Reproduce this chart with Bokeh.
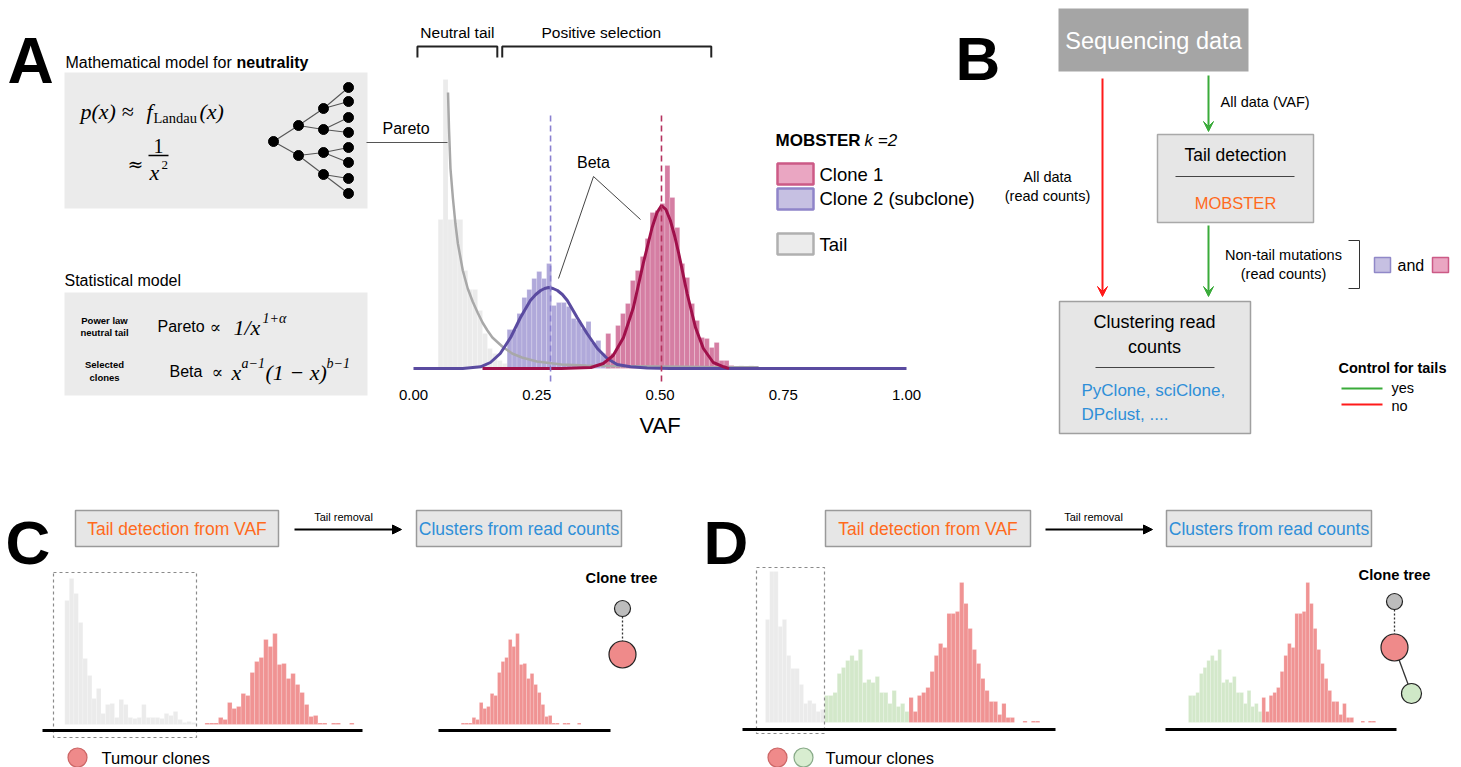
from bokeh.plotting import figure
from bokeh.models import Range1d, Arrow, VeeHead, NormalHead
from bokeh.core.properties import value
from bokeh.embed import file_html
from bokeh.resources import INLINE

# ---------------- data ----------------
# Panel A: VAF histogram (bin start, width 0.01) and fitted densities
tail_bin = [0.05, 0.06, 0.07, 0.08, 0.09, 0.10, 0.11, 0.12, 0.13, 0.14, 0.15, 0.16,
            0.17, 0.18, 0.19, 0.20, 0.21, 0.22, 0.66, 0.68]
tail_count = [149, 289, 149, 149, 149, 98, 79, 79, 58, 35, 20, 15, 8, 5, 4, 3, 3, 2, 3, 3]
sub_bin = [0.19, 0.20, 0.21, 0.22, 0.23, 0.24, 0.25, 0.26, 0.27, 0.28, 0.29, 0.30,
           0.31, 0.32, 0.33, 0.34, 0.35, 0.36, 0.37, 0.38, 0.39]
sub_count = [39, 39, 55, 71, 79, 90, 97, 90, 105, 63, 66, 66, 62, 50, 48, 40, 47, 26, 28, 15, 8]
clone_bin = [0.39, 0.40, 0.41, 0.42, 0.43, 0.44, 0.45, 0.46, 0.47, 0.48, 0.49, 0.50,
             0.51, 0.52, 0.53, 0.54, 0.55, 0.56, 0.57, 0.58, 0.59, 0.60, 0.61, 0.62,
             0.63, 0.64, 0.65, 0.66, 0.67, 0.68]
clone_count = [35, 15, 43, 55, 65, 88, 98, 112, 130, 156, 158, 165, 203, 171, 141, 105,
               91, 65, 48, 31, 30, 21, 26, 8, 8, 3, 2, 2, 0, 2]
bin_w = 0.01

pareto_vaf = [0.070, 0.072, 0.075, 0.08, 0.085, 0.09, 0.10, 0.11, 0.12, 0.13, 0.14, 0.15,
              0.16, 0.18, 0.20, 0.22, 0.25, 0.30, 0.35, 0.40, 0.50, 0.60, 0.70]
pareto_h = [276, 240, 200, 170, 145, 125, 98, 80, 67, 56, 46, 38, 31, 22, 15, 11, 7, 4, 3,
            2.5, 2, 1.5, 1.2]
sub_vaf = [0.0, 0.10, 0.136, 0.156, 0.176, 0.197, 0.217, 0.237, 0.248, 0.258, 0.266, 0.274,
           0.283, 0.292, 0.302, 0.312, 0.332, 0.352, 0.373, 0.393, 0.413, 0.44, 0.474, 0.52, 1.0]
sub_h = [0, 0, 1.7, 6, 15, 31, 51, 68, 74, 78, 80, 81, 80, 78, 74, 68, 51, 35, 20, 10, 4,
         1.7, 0.5, 0, 0]
clone_vaf = [0.14, 0.30, 0.36, 0.385, 0.405, 0.426, 0.446, 0.466, 0.476, 0.484, 0.494, 0.503,
             0.512, 0.521, 0.53, 0.538, 0.555, 0.572, 0.588, 0.608, 0.629, 0.64]
clone_h = [0, 0, 1, 5, 13, 31, 61, 105, 125, 141, 156, 163, 159, 148, 132, 115, 75, 41, 20,
           6, 1.7, 0]
sub_mean = 0.278
clone_mean = 0.503
vaf_ticks = [0.0, 0.25, 0.5, 0.75, 1.0]
vaf_labels = ["0.00", "0.25", "0.50", "0.75", "1.00"]
neutral_span = [0.008, 0.17]
positive_span = [0.18, 0.604]

# Panel C: histogram by bin index
C_tail_count = [124, 146, 131, 102, 66, 49, 26, 36, 11, 20, 21, 7, 25, 20, 7, 6, 7, 20, 7, 7,
                7, 6, 11, 9, 13, 5, 2, 3, 2]
C_clone_start = 31
C_clone_count = [1.5, 1.5, 1.5, 7, 5, 22, 16, 18, 31, 29, 52, 63, 67, 85, 78, 91, 60, 61, 46,
                 51, 40, 32, 20, 8, 9, 1.5, 1.5, 0, 1.5, 1.5, 0, 0, 1.5]

# Panel D: histogram by bin index
D_tail_count = [103, 151, 151, 96, 103, 67, 54, 54, 38, 19, 22, 19, 11, 13]
D_sub_start = 14
D_sub_count = [27, 27, 30, 49, 55, 62, 67, 62, 73, 40, 43, 40, 46, 30, 30, 19, 32, 16, 19, 11]
D_clone_start = 34
D_clone_count = [25, 11, 27, 30, 35, 51, 67, 79, 75, 109, 109, 111, 140, 119, 94, 73, 59, 44,
                 32, 21, 21, 8, 19, 5, 5, 0, 0, 1.5, 0, 1.5, 1.5]

# ---------------- styles ----------------
SANS = "Liberation Sans"
SERIF = "Liberation Serif"
MATH = "DejaVu Serif"
W, H = 1461, 767
GRAY_BAR = "#ebebeb"
PURPLE_BAR = "#b0a9da"
RED_BAR = "#d57ea3"
C_RED = "#f09393"
C_GREEN = "#d3e8ca"
ORANGE = "#ff6a1c"
BLUE = "#2f8fd8"

p = figure(width=W, height=H, x_range=Range1d(0, W), y_range=Range1d(H, 0),
           x_axis_type=None, y_axis_type=None, toolbar_location=None,
           output_backend="svg", min_border=0, outline_line_color=None)
p.min_border_left = p.min_border_right = p.min_border_top = p.min_border_bottom = 0
p.title.visible = False
p.grid.grid_line_color = None
p.background_fill_color = "white"
p.border_fill_color = "white"


def xmap(p0, w):
    return Range1d(start=(0 - p0) / w, end=(W - p0) / w)


def ymap(base):
    return Range1d(start=-(H - base), end=base)


p.extra_x_ranges = {"vafA": xmap(413, 493), "C1": xmap(64.3, 4.52), "C2": xmap(348.2, 3.63),
                    "D1": xmap(765, 4.22), "D2": xmap(1136.6, 3.67)}
p.extra_y_ranges = {"hA": ymap(368), "hC": ymap(724), "hD": ymap(722)}


def T(x, y, s, size, color="black", font=SANS, style="normal", align="left",
      baseline="middle", xr=None):
    kw = {}
    if xr:
        kw["x_range_name"] = xr
    p.text(x=[x], y=[y], text=[s], text_font=value(font), text_font_size=f"{size}px",
           text_font_style=style, text_color=color, text_align=align,
           text_baseline=baseline, **kw)


def L(xs, ys, color="black", width=1.0, dash="solid", xr=None):
    kw = {}
    if xr:
        kw["x_range_name"] = xr
    p.line(xs, ys, line_color=color, line_width=width, line_dash=dash, **kw)


def box(l, r, t, b, fill, line=None, lw=1.5, dash="solid"):
    p.quad(left=[l], right=[r], top=[t], bottom=[b], fill_color=fill,
           fill_alpha=1 if fill else 0, line_color=line, line_width=lw, line_dash=dash)


def bars(bins, counts, width, color, xr, yr):
    p.quad(left=bins, right=[b + width for b in bins], bottom=[0] * len(bins), top=counts,
           fill_color=color, line_color="white", line_width=0.4, line_alpha=0.45,
           x_range_name=xr, y_range_name=yr)


def arrow(x0, y0, x1, y1, color, head="vee", size=11, width=2):
    if head == "vee":
        hd = VeeHead(size=size, line_color=color, fill_color=color, line_width=1)
    else:
        hd = NormalHead(size=size, line_color=color, fill_color=color, line_width=1)
    p.add_layout(Arrow(end=hd, x_start=x0, y_start=y0, x_end=x1, y_end=y1,
                       line_color=color, line_width=width))


def dot(x, y, d, fill, line="#222", lw=1.2):
    p.scatter(x=[x], y=[y], size=d, marker="circle", fill_color=fill, line_color=line,
              line_width=lw)


# ================= Panel A =================
T(7, 60, "A", 64, style="bold", baseline="alphabetic")
T(65, 62, "Mathematical model for", 16)
T(236, 62, "neutrality", 16, style="bold")
box(64, 367, 72, 208, "#ebebeb")
T(80, 111, "p(x) \u2248", 22, font=SERIF, style="italic")
T(146, 111, "f", 22, font=SERIF, style="italic")
T(153, 117, "Landau", 14.5, font=SERIF)
T(199, 111, "(x)", 22, font=SERIF, style="italic")
T(127, 163, "\u2248", 19, font=MATH)
T(158, 145, "1", 20, font=SERIF, align="center")
L([148, 168], [155, 155], width=1.3)
T(154, 172, "x", 22, font=SERIF, style="italic", align="center")
T(161, 164, "2", 13, font=SERIF)

tree_x = [273, 298, 298, 323, 323, 323, 323, 348, 348, 348, 348, 348, 348, 348, 348]
tree_y = [141, 125, 155, 108, 129, 152, 174, 87, 101, 117, 132, 147, 162, 178, 193]
tree_parent = [None, 0, 0, 1, 1, 2, 2, 3, 3, 4, 4, 5, 5, 6, 6]
ex0, ey0, ex1, ey1 = [], [], [], []
for i, par in enumerate(tree_parent):
    if par is not None:
        ex0.append(tree_x[par]); ey0.append(tree_y[par])
        ex1.append(tree_x[i]); ey1.append(tree_y[i])
p.segment(x0=ex0, y0=ey0, x1=ex1, y1=ey1, line_color="#555555", line_width=1.1)
p.scatter(x=tree_x, y=tree_y, size=10, marker="circle", fill_color="black", line_color="black")

T(64, 280, "Statistical model", 16)
box(64, 367, 292, 395, "#ebebeb")
T(104, 320, "Power law", 9.5, style="bold", align="center")
T(104, 332, "neutral tail", 9.5, style="bold", align="center")
T(104, 364, "Selected", 9.5, style="bold", align="center")
T(104, 377, "clones", 9.5, style="bold", align="center")
T(157, 326, "Pareto", 16)
T(209, 326, "\u221d", 17, font=MATH)
T(233, 327, "1/x", 22, font=SERIF, style="italic")
T(262, 318, "1+\u03b1", 14, font=SERIF, style="italic")
T(169, 371, "Beta", 16)
T(211, 371, "\u221d", 17, font=MATH)
T(231, 372, "x", 22, font=SERIF, style="italic")
T(241, 363, "a\u22121", 14, font=SERIF, style="italic")
T(265, 372, "(1 \u2212 x)", 22, font=SERIF, style="italic")
T(326, 363, "b\u22121", 14, font=SERIF, style="italic")

# histogram A
bars(tail_bin, tail_count, bin_w, GRAY_BAR, "vafA", "hA")
bars(sub_bin, sub_count, bin_w, PURPLE_BAR, "vafA", "hA")
bars(clone_bin, clone_count, bin_w, RED_BAR, "vafA", "hA")
p.line(pareto_vaf, pareto_h, line_color="#a8a8a8", line_width=2.5,
       x_range_name="vafA", y_range_name="hA")
p.line(sub_vaf, sub_h, line_color="#5a4ba0", line_width=3,
       x_range_name="vafA", y_range_name="hA")
p.line(clone_vaf, clone_h, line_color="#a0104a", line_width=3,
       x_range_name="vafA", y_range_name="hA")
p.segment(x0=[sub_mean], x1=[sub_mean], y0=[115], y1=[383], line_color="#8a80d0",
          line_width=1.6, line_dash="6 4", x_range_name="vafA")
p.segment(x0=[clone_mean], x1=[clone_mean], y0=[115], y1=[383], line_color="#b5325f",
          line_width=1.6, line_dash="6 4", x_range_name="vafA")
for v, lab in zip(vaf_ticks, vaf_labels):
    T(v, 394, lab, 15, align="center", xr="vafA")
T(0.5, 425, "VAF", 22, align="center", xr="vafA")

# brackets
for lo, hi in (neutral_span, positive_span):
    L([lo, lo, hi, hi], [57, 46, 46, 57], color="#222222", width=2, xr="vafA")
T(sum(neutral_span) / 2, 32, "Neutral tail", 15.5, align="center", xr="vafA")
T(0.381, 32, "Positive selection", 15.5, align="center", xr="vafA")

# annotations
T(382, 128, "Pareto", 16)
L([366, 447], [142, 142], color="#555555", width=1)
T(593, 162, "Beta", 16, align="center")
L([593, 558], [176, 278], color="#444444", width=1)
L([593, 640], [176, 219], color="#444444", width=1)

# legend
T(775, 140, "MOBSTER", 17, style="bold")
T(864, 140, "k =2", 17, style="italic")
box(777, 813, 163, 184, "#eaa6c2", "#cc5a86", 2.5)
box(777, 813, 188, 209, "#c6c0e2", "#8f84c9", 2.5)
box(777, 813, 233, 254, "#ececec", "#b0b0b0", 2.5)
T(819, 174, "Clone 1", 18.5)
T(819, 198, "Clone 2 (subclone)", 18.5)
T(819, 244, "Tail", 18.5)

# ================= Panel B =================
T(955, 58, "B", 62, style="bold", baseline="alphabetic")
box(1058, 1248, 8, 71, "#a5a5a5", None)
T(1153, 40, "Sequencing data", 23.5, color="white", align="center")
arrow(1102, 78, 1102, 296, "#ff1a1a", size=10)
arrow(1208, 75, 1208, 131, "#3aab3a", size=10)
arrow(1208, 225, 1208, 296, "#3aab3a", size=10)
T(1220, 101, "All data (VAF)", 14.5)
T(1047, 176, "All data", 14.5, align="center")
T(1047, 195, "(read counts)", 14.5, align="center")
box(1157, 1313, 134, 222, "#e6e6e6", "#a9a9a9", 1.5)
T(1235, 154, "Tail detection", 17.5, align="center")
L([1175, 1294], [176, 176], color="#444444", width=1)
T(1235, 202, "MOBSTER", 16.5, color=ORANGE, align="center")
T(1283, 254, "Non-tail mutations", 14.5, align="center")
T(1283, 273, "(read counts)", 14.5, align="center")
L([1348, 1359, 1359, 1348], [240, 240, 288, 288], color="#333333", width=1)
box(1374, 1390, 257, 272, "#c6c0e2", "#9088c8", 1.5)
T(1397, 265, "and", 16)
box(1432, 1448, 257, 272, "#eaa6c2", "#cc5a86", 1.5)
box(1059, 1250, 301, 433, "#e6e6e6", "#a0a0a0", 1.5)
T(1154, 321, "Clustering read", 18, align="center")
T(1154, 346, "counts", 18, align="center")
L([1095, 1214], [367, 367], color="#444444", width=1)
T(1081, 390, "PyClone, sciClone,", 17, color=BLUE)
T(1081, 414, "DPclust, ....", 17, color=BLUE)
T(1338, 367, "Control for tails", 14.5, style="bold")
L([1341, 1382], [388, 388], color="#3aab3a", width=2)
L([1341, 1382], [404, 404], color="#ff1a1a", width=2)
T(1391, 387, "yes", 14.5)
T(1391, 405, "no", 14.5)

# ================= Panel C =================
T(5, 542, "C", 62, style="bold", baseline="alphabetic")
box(75, 278, 510, 546, "#e6e6e6", "#9a9a9a", 1.5)
T(176.5, 528, "Tail detection from VAF", 17.5, color=ORANGE, align="center")
T(343, 516, "Tail removal", 11, align="center")
arrow(294, 529, 401, 529, "black", head="normal", size=9, width=2)
box(416, 621, 510, 546, "#e6e6e6", "#9a9a9a", 1.5)
T(518.5, 528, "Clusters from read counts", 17.5, color=BLUE, align="center")

C_tail_idx = list(range(len(C_tail_count)))
C_clone_idx = [C_clone_start + i for i in range(len(C_clone_count))]
bars(C_tail_idx, C_tail_count, 1, GRAY_BAR, "C1", "hC")
bars(C_clone_idx, C_clone_count, 1, C_RED, "C1", "hC")
bars(C_clone_idx, C_clone_count, 1, C_RED, "C2", "hC")
box(53, 196, 572, 737, None, "#8a8a8a", 1.2, "3 3")
L([42, 362], [730, 730], width=3)
L([438, 610], [730, 730], width=3)
T(621, 577, "Clone tree", 14.7, style="bold", align="center")
L([622, 622], [612, 642], color="#333333", width=1.3, dash="2 2")
dot(622, 608, 16, "#bdbdbd")
dot(622, 654, 27, "#ef8a8a")
dot(77, 757, 19, "#ef8a8a", line="#c66")
T(101, 757, "Tumour clones", 16.5)

# ================= Panel D =================
T(703, 542, "D", 62, style="bold", baseline="alphabetic")
box(825, 1030, 510, 546, "#e6e6e6", "#9a9a9a", 1.5)
T(927.5, 528, "Tail detection from VAF", 17.5, color=ORANGE, align="center")
T(1093, 516, "Tail removal", 11, align="center")
arrow(1045, 529, 1152, 529, "black", head="normal", size=9, width=2)
box(1166, 1371, 510, 546, "#e6e6e6", "#9a9a9a", 1.5)
T(1268.5, 528, "Clusters from read counts", 17.5, color=BLUE, align="center")

D_tail_idx = list(range(len(D_tail_count)))
D_sub_idx = [D_sub_start + i for i in range(len(D_sub_count))]
D_clone_idx = [D_clone_start + i for i in range(len(D_clone_count))]
bars(D_tail_idx, D_tail_count, 1, GRAY_BAR, "D1", "hD")
bars(D_sub_idx, D_sub_count, 1, C_GREEN, "D1", "hD")
bars(D_clone_idx, D_clone_count, 1, C_RED, "D1", "hD")
bars(D_sub_idx, D_sub_count, 1, C_GREEN, "D2", "hD")
bars(D_clone_idx, D_clone_count, 1, C_RED, "D2", "hD")
box(756, 824, 567, 733, None, "#8a8a8a", 1.2, "3 3")
L([742, 1055], [729, 729], width=3)
L([1165, 1396], [729, 729], width=3)
T(1394, 574, "Clone tree", 14.7, style="bold", align="center")
L([1394, 1394], [605, 635], color="#333333", width=1.3, dash="2 2")
L([1394, 1411], [647, 693], color="#333333", width=1.3)
dot(1394, 601, 16, "#bdbdbd")
dot(1394, 647, 27, "#ef8a8a")
dot(1411, 693, 20, "#cfe8c7")
dot(777, 757, 19, "#ef8a8a", line="#c66")
dot(803, 757, 19, "#d8edd0", line="#8a8")
T(825, 757, "Tumour clones", 16.5)

open("out.html", "w").write(file_html(p, INLINE))
